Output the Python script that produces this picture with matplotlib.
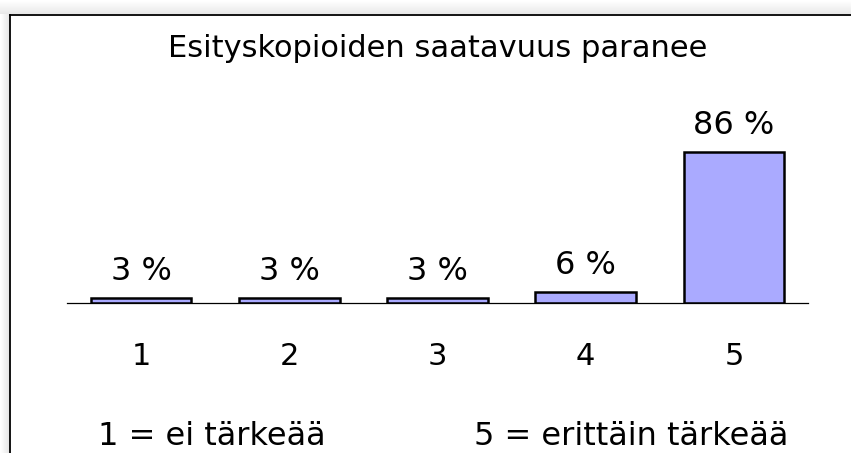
import matplotlib.pyplot as plt
import numpy as np
from matplotlib.patches import Rectangle

# data
kategoriat = ["1", "2", "3", "4", "5"]
osuudet = [3, 3, 3, 6, 86]
otsikko = "Esityskopioiden saatavuus paranee"
selite_vasen = "1 = ei tärkeää"
selite_oikea = "5 = erittäin tärkeää"

W, H = 851, 453
fig = plt.figure(figsize=(W / 100, H / 100), dpi=100)
fig.patch.set_facecolor("white")

# background frame with a soft shadow at top and left
bg = fig.add_axes([0, 0, 1, 1])
bg.set_xlim(0, W)
bg.set_ylim(H, 0)
bg.axis("off")
grad_v = np.linspace(1.0, 0.91, 14).reshape(-1, 1)
bg.imshow(np.repeat(grad_v, 2, axis=1), cmap="gray", vmin=0, vmax=1,
          extent=(0, W, 14, 0), aspect="auto")
grad_h = np.linspace(1.0, 0.91, 9).reshape(1, -1)
bg.imshow(np.repeat(grad_h, 2, axis=0), cmap="gray", vmin=0, vmax=1,
          extent=(0, 9, H, 14), aspect="auto")
bg.add_patch(Rectangle((9.5, 14.5), W, H, facecolor="white", edgecolor="none"))
bg.plot([9.5, 9.5], [H, 14.5], color="black", lw=1.3)
bg.plot([9.5, W], [14.5, 14.5], color="black", lw=1.3)

# the bar chart
ax = fig.add_axes([67 / W, (H - 303) / H, 741 / W, 175.6 / H])
ax.patch.set_alpha(0)
x = np.arange(1, len(kategoriat) + 1)
ax.bar(x, osuudet, width=0.68, color="#aaaaff", edgecolor="black", linewidth=1.8)
ax.set_xlim(0.5, 5.5)
ax.set_ylim(0, 100)
for s in ["top", "left", "right"]:
    ax.spines[s].set_visible(False)
ax.spines["bottom"].set_linewidth(0.9)
ax.set_yticks([])
ax.set_xticks(x, kategoriat)
ax.tick_params(axis="x", length=0, pad=28, labelsize=22)

for xi, v in zip(x, osuudet):
    ax.annotate(f"{v} %", (xi, v), xytext=(0, 13), textcoords="offset points",
                ha="center", va="baseline", fontsize=23)

fig.text(438 / W, 1 - 57 / H, otsikko, ha="center", va="baseline", fontsize=22)
fig.text(211.5 / W, 1 - 445 / H, selite_vasen, ha="center", va="baseline", fontsize=23)
fig.text(631.5 / W, 1 - 445 / H, selite_oikea, ha="center", va="baseline", fontsize=23)

fig.savefig("out.png", dpi=100)
